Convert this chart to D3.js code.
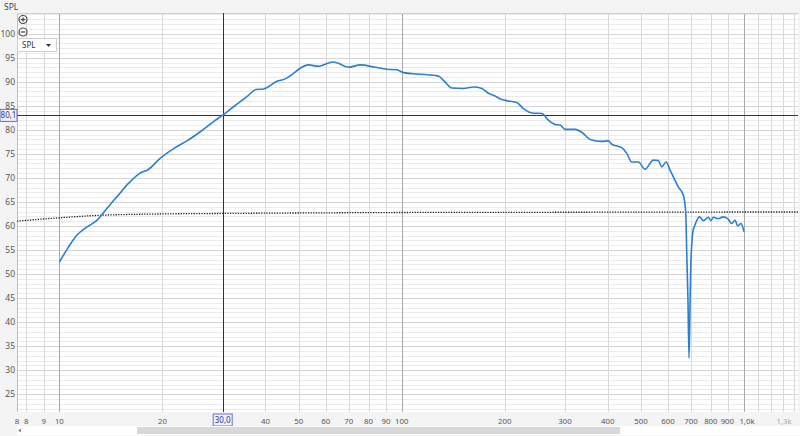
<!DOCTYPE html>
<html><head><meta charset="utf-8">
<script src="https://cdn.jsdelivr.net/npm/d3@7"></script>
<style>
html,body{margin:0;padding:0;background:#f4f4f4;}
svg{display:block;font-family:"Noto Sans","Open Sans",sans-serif;}
</style></head>
<body><svg id="c" width="800" height="436"></svg>
<script>
// ---- data ----
const freqs = [10,10.65,11.26,12.05,12.89,13.79,14.74,15.94,17.04,18.23,19.72,21.57,23.6,25.8,28.22,30.06,32.28,35.32,37.6,39.5,43.2,45.7,48,50.5,53.4,57.2,60,63.2,65,69.9,75.6,83.7,90.5,96.8,101.2,110.8,125.3,128,132.5,140.2,151.5,162.1,171.5,179.2,185.4,196.1,205,216.9,226.8,240,256.7,268.3,280.7,290.3,300.2,321.1,335.9,355.2,384.2,401.7,411,439.5,454.6,470,491.4,514,543.6,562.2,575.2,592.1,608.2,621.9,643.1,665,670,676,680,686,691,696,699,704,709,719,741,761,787,800,814,841,870,900,921,941,959,980,1000];
const spl = [52.5,55.7,58.1,59.8,61.2,63.7,66.1,68.9,70.8,71.8,74.1,76.1,77.7,79.6,81.7,83.1,84.8,86.9,88.4,88.5,90.1,90.6,91.6,92.8,93.5,93.2,93.7,94.1,93.9,93.0,93.5,93.0,92.6,92.5,91.9,91.6,91.3,91.2,90.3,88.7,88.6,88.9,88.6,87.6,87.2,86.3,86.0,85.7,84.4,83.5,83.4,82.0,81.1,81.0,80.1,80.1,79.5,78.0,77.6,77.7,77.0,76.3,75.1,73.3,73.3,71.8,73.7,73.6,72.3,73.3,71.6,70.2,68.1,66.4,65.3,62.6,55.0,44.6,32.5,44.6,51.5,56.4,58.8,60.2,61.9,61.1,61.8,61.1,61.8,61.5,61.9,61.4,60.5,61.2,60.0,60.5,58.8];
const refFreqs = [7.52,10,13,20,30,50,100,300,1000,1438];
const refSpl = [61.0,61.7,62.2,62.5,62.6,62.7,62.8,62.85,62.9,62.9];
const yTicks = [25,30,35,40,45,50,55,60,65,70,75,80,85,90,95,100];
const xTickVals = [8,9,10,20,40,50,60,70,80,90,100,200,300,400,500,600,700,800,900,1000];
const xTickLabels = ["8","9","10","20","40","50","60","70","80","90","100","200","300","400","500","600","700","800","900","1,0k"];
const cursorF = 30, cursorV = 83.1;
const cursorFLabel = "30,0", cursorVLabel = "80,1";

// ---- layout ----
const L=17, R=798, T=13, B=412;
const svg = d3.select("#c");
const x = d3.scaleLog().domain([7.52,1438]).range([L,R]);
const y = d3.scaleLinear().domain([21.3,104.3]).range([B,T]);

svg.append("rect").attr("x",L).attr("y",T).attr("width",R-L).attr("height",B-T).attr("fill","#fff");

// horizontal grid
const hg = svg.append("g");
for (let v=22; v<=104; v++){
  hg.append("line").attr("x1",L).attr("x2",R).attr("y1",Math.round(y(v))+0.5).attr("y2",Math.round(y(v))+0.5)
    .attr("stroke", v%5===0 ? "#d6d6d6" : "#ebebeb").attr("stroke-width",1);
}
// vertical grid
const vLines = [];
[1,10,100].forEach(d=>{for(let k=1;k<=9;k++){vLines.push(k*d);}});
[1000,1100,1200,1300,1400].forEach(v=>vLines.push(v));
vLines.filter(v=>v>=8 && v<=1400).forEach(v=>{
  const dec = (v===10||v===100||v===1000);
  hg.append("line").attr("y1",T).attr("y2",B).attr("x1",Math.round(x(v))+0.5).attr("x2",Math.round(x(v))+0.5)
    .attr("stroke", dec ? "#a8a8a8" : "#d9d9d9").attr("stroke-width",1);
});
svg.append("line").attr("x1",L+0.5).attr("x2",L+0.5).attr("y1",T).attr("y2",B).attr("stroke","#bdbdbd");
svg.append("line").attr("x1",L).attr("x2",R).attr("y1",T+0.5).attr("y2",T+0.5).attr("stroke","#cfcfcf");

// cursor lines
svg.append("line").attr("x1",Math.round(x(cursorF))+0.5).attr("x2",Math.round(x(cursorF))+0.5).attr("y1",T).attr("y2",B).attr("stroke","#333").attr("stroke-width",1);
svg.append("line").attr("x1",L).attr("x2",R).attr("y1",Math.round(y(cursorV))+0.5).attr("y2",Math.round(y(cursorV))+0.5).attr("stroke","#333").attr("stroke-width",1);

// reference dotted line
const refData = refFreqs.map((f,i)=>({f, v:refSpl[i]}));
svg.append("path").datum(refData)
  .attr("d", d3.line().x(d=>x(d.f)).y(d=>y(d.v)).curve(d3.curveMonotoneX))
  .attr("fill","none").attr("stroke","#222").attr("stroke-width",1.3).attr("stroke-dasharray","1.3,1.3");

// main curve
const data = freqs.map((f,i)=>({f, v:spl[i]}));
svg.append("path").datum(data)
  .attr("d", d3.line().x(d=>x(d.f)).y(d=>y(d.v)).curve(d3.curveMonotoneX))
  .attr("fill","none").attr("stroke","#2b7fd2").attr("stroke-width",1.6).attr("stroke-linejoin","round");

// y tick labels
const yl = svg.append("g").attr("font-size",8.5).attr("fill","#555").attr("text-anchor","end");
yTicks.forEach(v=>{ yl.append("text").attr("x",15).attr("y",y(v)+3).text(v); });

// x tick labels
const xl = svg.append("g").attr("font-size",7.8).attr("fill","#555").attr("text-anchor","middle");
xl.append("text").attr("x",x(7.52)).attr("y",424).text("8");
xTickVals.forEach((v,i)=>{ xl.append("text").attr("x",x(v)+(v===1000?3:(v===900?-1:0))).attr("y",424).text(xTickLabels[i]); });
xl.append("text").attr("x",x(1300)+1).attr("y",424).attr("fill","#aaa").text("1,3k");

// cursor label boxes
function box(cx, cy, w, txt){
  svg.append("rect").attr("x",cx-w/2).attr("y",cy-6).attr("width",w).attr("height",12)
    .attr("fill","#eef0fb").attr("stroke","#6b6fc9").attr("stroke-width",1);
  svg.append("text").attr("x",cx).attr("y",cy+3).attr("text-anchor","middle").attr("font-size",8).attr("fill","#33379a").text(txt);
}
box(x(cursorF), 420, 19, cursorFLabel);
box(8.5, y(cursorV)+0.5, 17, cursorVLabel);

// top-left UI
svg.append("text").attr("x",4).attr("y",10).attr("font-size",8.5).attr("fill","#444").text("SPL");
function zoomIcon(cx,cy,plus){
  svg.append("circle").attr("cx",cx).attr("cy",cy).attr("r",4).attr("fill","#fff").attr("stroke","#444").attr("stroke-width",1.2);
  svg.append("line").attr("x1",cx-2.3).attr("x2",cx+2.3).attr("y1",cy).attr("y2",cy).attr("stroke","#444").attr("stroke-width",1.2);
  if(plus) svg.append("line").attr("x1",cx).attr("x2",cx).attr("y1",cy-2.3).attr("y2",cy+2.3).attr("stroke","#444").attr("stroke-width",1.2);
}
zoomIcon(23,19.5,true);
zoomIcon(23,32,false);
svg.append("rect").attr("x",17.5).attr("y",38.5).attr("width",39).attr("height",13).attr("fill","#fff").attr("stroke","#d0d0d0");
svg.append("text").attr("x",22).attr("y",48).attr("font-size",8).attr("fill","#333").text("SPL");
svg.append("path").attr("d","M46,44 L51,44 L48.5,47 Z").attr("fill","#333");

// scrollbar
svg.append("rect").attr("x",17).attr("y",426).attr("width",783).attr("height",9).attr("fill","#fff");
svg.append("rect").attr("x",137).attr("y",427).attr("width",483).attr("height",7).attr("fill","#d8d8d8");
svg.append("path").attr("d","M18,430.5 L21,428.5 L21,432.5 Z").attr("fill","#888");
</script></body></html>
